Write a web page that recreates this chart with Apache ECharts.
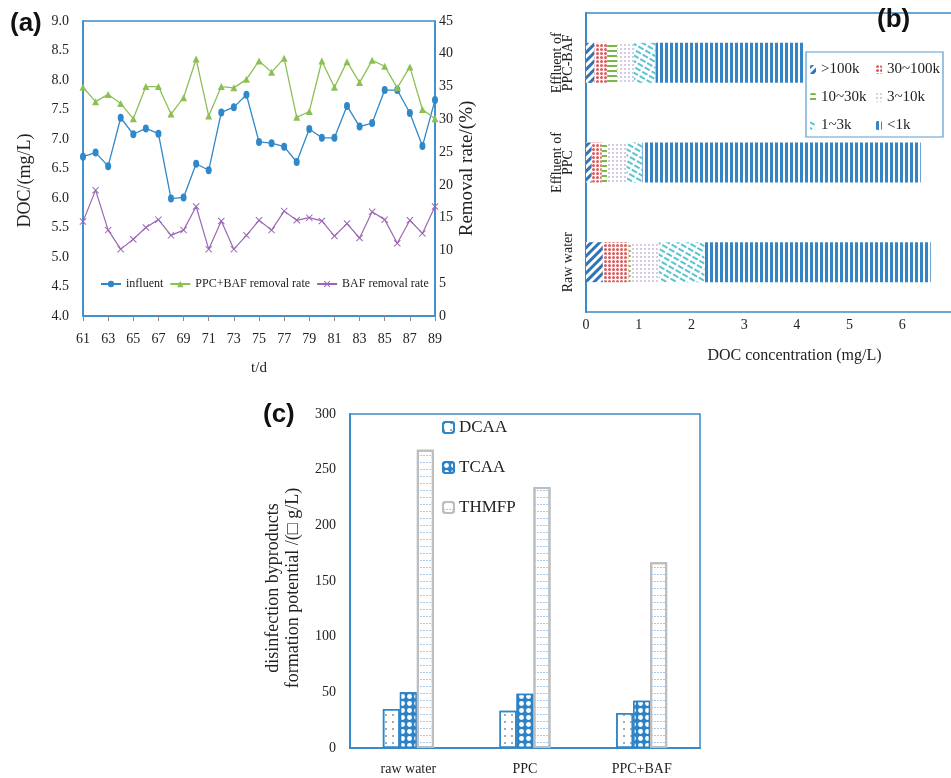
<!DOCTYPE html>
<html>
<head>
<meta charset="utf-8">
<title>DOC and DBPFP</title>
<script src="https://cdn.jsdelivr.net/npm/echarts/dist/echarts.min.js"></script>
<style>
  html, body { margin: 0; padding: 0; background: #fff; }
  #main { width: 951px; height: 778px; }
</style>
</head>
<body>
<div id="main"></div>
<script>
  // (a) daily values
  var days = ['61', '62', '63', '64', '65', '66', '67', '68', '69', '70', '71', '72', '73', '74', '75',
    '76', '77', '78', '79', '80', '81', '82', '83', '84', '85', '86', '87', '88', '89'];
  var influent = [6.70, 6.77, 6.54, 7.36, 7.08, 7.18, 7.09, 5.99, 6.01, 6.58, 6.47, 7.45, 7.54, 7.75, 6.95,
    6.93, 6.87, 6.61, 7.17, 7.02, 7.02, 7.56, 7.21, 7.27, 7.83, 7.83, 7.44, 6.88, 7.66];
  var ppcBafRate = [34.9, 32.7, 33.8, 32.4, 30.1, 35.0, 35.0, 30.8, 33.3, 39.2, 30.5, 35.0, 34.8, 36.1, 38.9,
    37.2, 39.3, 30.3, 31.2, 38.9, 34.9, 38.8, 35.6, 39.0, 38.1, 34.8, 38.0, 31.5, 30.1];
  var bafRate = [14.4, 19.2, 13.1, 10.2, 11.7, 13.5, 14.7, 12.3, 13.1, 16.7, 10.2, 14.5, 10.2, 12.3, 14.6,
    13.1, 16.0, 14.6, 15.0, 14.5, 12.2, 14.1, 11.9, 15.9, 14.7, 11.1, 14.6, 12.6, 16.7];

  // (b) molecular weight fractions
  var samples = ['Raw water', 'Effluent of\nPPC', 'Effluent of\nPPC-BAF'];
  var mwNames = ['>100k', '30~100k', '10~30k', '3~10k', '1~3k', '<1k'];
  var gt100k = [0.32, 0.11, 0.16];
  var k30to100 = [0.49, 0.19, 0.24];
  var k10to30 = [0.04, 0.10, 0.19];
  var k3to10 = [0.53, 0.37, 0.32];
  var k1to3 = [0.87, 0.30, 0.41];
  var lt1k = [4.29, 5.28, 2.80];

  // (c) DBP formation potential
  var processes = ['raw water', 'PPC', 'PPC+BAF'];
  var dcaa = [35.0, 33.5, 31.4];
  var tcaa = [50.0, 48.8, 42.5];
  var thmfp = [268, 234.4, 166.8];

  var serif = 'Liberation Serif';
  var blue = '#3a8ac8';
  var grey = '#8a8a8a';
  var txt = '#222';

  var chart = echarts.init(document.getElementById('main'));

  function label(text, left, top) {
    return {
      text: text, left: left, top: top,
      textStyle: { fontFamily: 'Liberation Sans', fontWeight: 'bold', fontSize: 26, color: '#111' }
    };
  }

  function mwBar(name, data, decal) {
    return {
      name: name, type: 'bar', stack: 'doc',
      xAxisIndex: 1, yAxisIndex: 2,
      barWidth: 40,
      itemStyle: { color: '#fff', decal: decal },
      data: data
    };
  }

  var option = {
    animation: false,
    textStyle: { fontFamily: serif },
    title: [label('(a)', 5, 6), label('(b)', 872, 2), label('(c)', 258, 397)],
    legend: [
      {
        data: ['influent', 'PPC+BAF removal rate', 'BAF removal rate'],
        left: 95, top: 273, itemGap: 6, itemTextGap: 2, itemWidth: 20, itemHeight: 8,
        textStyle: { fontFamily: serif, fontSize: 12, color: txt }
      },
      {
        data: ['>100k', '10~30k', '1~3k'],
        orient: 'vertical', left: 805, top: 56, itemGap: 11, itemWidth: 6, itemHeight: 9,
        textStyle: { fontFamily: serif, fontSize: 15, color: txt, lineHeight: 17 }
      },
      {
        data: ['30~100k', '3~10k', '<1k'],
        orient: 'vertical', left: 871, top: 56, itemGap: 11, itemWidth: 6, itemHeight: 9,
        textStyle: { fontFamily: serif, fontSize: 15, color: txt, lineHeight: 17 }
      },
      {
        data: ['DCAA', 'TCAA', 'THMFP'],
        orient: 'vertical', left: 437, top: 413, itemGap: 21, itemWidth: 11, itemHeight: 11,
        textStyle: { fontFamily: serif, fontSize: 17, color: txt, lineHeight: 19 }
      }
    ],
    graphic: [{
      type: 'rect', z: 1,
      shape: { x: 806, y: 52, width: 137, height: 85 },
      style: { fill: '#fff', stroke: '#5a9ad0', lineWidth: 1.2 }
    }],
    grid: [
      { left: 83, top: 21, width: 352, height: 295, outerBoundsMode: 'none', show: true, borderColor: blue, borderWidth: 1.5 },
      { left: 586, top: 13, width: 369, height: 299, outerBoundsMode: 'none', show: true, borderColor: blue, borderWidth: 1.5 },
      { left: 350, top: 414, width: 350, height: 334, outerBoundsMode: 'none', show: true, borderColor: blue, borderWidth: 1.5 }
    ],
    xAxis: [
      {
        gridIndex: 0, type: 'category', boundaryGap: false, data: days,
        name: 't/d', nameLocation: 'middle', nameGap: 45,
        nameTextStyle: { fontFamily: serif, fontSize: 15, color: txt },
        axisLine: { lineStyle: { color: blue, width: 1.5 } },
        axisTick: { interval: 1, length: 5, lineStyle: { color: grey } },
        axisLabel: { interval: 1, margin: 16, fontFamily: serif, fontSize: 14, color: txt },
        splitLine: { show: false }
      },
      {
        gridIndex: 1, type: 'value', min: 0, max: 7, interval: 1,
        name: 'DOC concentration (mg/L)', nameLocation: 'middle', nameGap: 36,
        nameTextStyle: { fontFamily: serif, fontSize: 16, color: txt, padding: [0, 0, 0, 48] },
        axisLine: { lineStyle: { color: blue, width: 2 } },
        axisTick: { inside: true, length: 5, lineStyle: { color: grey } },
        axisLabel: {
          margin: 6, fontFamily: serif, fontSize: 14, color: txt,
          formatter: function (v) { return v === 7 ? '' : v; }
        },
        splitLine: { show: false }
      },
      {
        gridIndex: 2, type: 'category', data: processes,
        axisLine: { lineStyle: { color: blue, width: 2 } },
        axisTick: { length: 7, lineStyle: { color: grey } },
        axisLabel: { margin: 14, fontFamily: serif, fontSize: 14, color: txt },
        splitLine: { show: false }
      }
    ],
    yAxis: [
      {
        gridIndex: 0, type: 'value', min: 4, max: 9, interval: 0.5,
        name: 'DOC/(mg/L)', nameLocation: 'middle', nameGap: 49,
        nameTextStyle: { fontFamily: serif, fontSize: 18, color: txt, padding: [0, 24, 0, 0] },
        axisLine: { show: true, lineStyle: { color: blue, width: 1.5 } },
        axisTick: { show: false },
        axisLabel: {
          margin: 14, fontFamily: serif, fontSize: 14, color: txt,
          formatter: function (v) { return v.toFixed(1); }
        },
        splitLine: { show: false }
      },
      {
        gridIndex: 0, type: 'value', position: 'right', min: 0, max: 45, interval: 5,
        name: 'Removal rate/(%)', nameLocation: 'middle', nameGap: 23,
        nameTextStyle: { fontFamily: serif, fontSize: 19, color: txt },
        axisLine: { show: true, lineStyle: { color: blue, width: 1.5 } },
        axisTick: { show: false },
        axisLabel: { margin: 4, fontFamily: serif, fontSize: 14, color: txt },
        splitLine: { show: false }
      },
      {
        gridIndex: 1, type: 'category', data: samples,
        axisLine: { lineStyle: { color: blue, width: 2 } },
        axisTick: { length: 5, lineStyle: { color: grey } },
        axisLabel: { rotate: 90, margin: 12, fontFamily: serif, fontSize: 14, color: txt, lineHeight: 11 },
        splitLine: { show: false }
      },
      {
        gridIndex: 2, type: 'value', min: 0, max: 300, interval: 50,
        name: 'disinfection byproducts\nformation potential /(\u25a1 g/L)',
        nameLocation: 'middle', nameGap: 47,
        nameTextStyle: { fontFamily: serif, fontSize: 18, color: txt, lineHeight: 20, padding: [0, 14, 0, 0] },
        axisLine: { show: true, lineStyle: { color: blue, width: 2 } },
        axisTick: { length: 5, lineStyle: { color: grey } },
        axisLabel: { margin: 14, fontFamily: serif, fontSize: 14, color: txt },
        splitLine: { show: false }
      }
    ],
    series: [
      {
        name: 'influent', type: 'line', xAxisIndex: 0, yAxisIndex: 0,
        symbol: 'circle', symbolSize: [6, 8],
        lineStyle: { color: '#2f88c9', width: 1.3 },
        itemStyle: { color: '#2f88c9' },
        data: influent
      },
      {
        name: 'PPC+BAF removal rate', type: 'line', xAxisIndex: 0, yAxisIndex: 1,
        symbol: 'triangle', symbolSize: 7,
        lineStyle: { color: '#8cc055', width: 1.3 },
        itemStyle: { color: '#8cc055' },
        data: ppcBafRate
      },
      {
        name: 'BAF removal rate', type: 'line', xAxisIndex: 0, yAxisIndex: 1,
        symbol: 'path://M0,1L1,0L5,4L9,0L10,1L6,5L10,9L9,10L5,6L1,10L0,9L4,5Z', symbolSize: 7,
        lineStyle: { color: '#9b66b6', width: 1.2 },
        itemStyle: { color: '#9b66b6' },
        data: bafRate
      },
      mwBar(mwNames[0], gt100k, {
        symbol: 'rect', color: '#2f74b4', dashArrayX: [1, 0], dashArrayY: [2.5, 2.5], rotation: -Math.PI / 4
      }),
      mwBar(mwNames[1], k30to100, {
        symbol: 'circle', color: '#e05a5a', symbolSize: 1, dashArrayX: [2.5, 0.8], dashArrayY: [2.5, 0.8]
      }),
      mwBar(mwNames[2], k10to30, {
        symbol: 'rect', color: '#7db64a', dashArrayX: [1, 0], dashArrayY: [2, 2.5]
      }),
      mwBar(mwNames[3], k3to10, {
        symbol: 'circle', color: '#c9b8dc', symbolSize: 1, dashArrayX: [2, 2], dashArrayY: [2, 2]
      }),
      mwBar(mwNames[4], k1to3, {
        symbol: 'rect', color: '#5cc2d2', dashArrayX: [6, 2], dashArrayY: [2, 2.5], rotation: Math.PI / 6
      }),
      mwBar(mwNames[5], lt1k, {
        symbol: 'rect', color: '#3585c6', dashArrayX: [2.5, 2], dashArrayY: [1, 0]
      }),
      {
        name: 'DCAA', type: 'bar', xAxisIndex: 2, yAxisIndex: 3,
        barWidth: 17, barGap: '0%',
        itemStyle: {
          color: '#fff', borderColor: '#2f86c8', borderWidth: 1.5,
          decal: { symbol: 'circle', color: '#8c8c8c', symbolSize: 1, dashArrayX: [1.5, 5], dashArrayY: [1.5, 5] }
        },
        data: dcaa
      },
      {
        name: 'TCAA', type: 'bar', xAxisIndex: 2, yAxisIndex: 3,
        barWidth: 17, barGap: '0%',
        itemStyle: {
          color: '#2b82c7', borderColor: '#2b82c7', borderWidth: 1.5,
          decal: { symbol: 'circle', color: '#fff', symbolSize: 0.7, dashArrayX: [7, 0], dashArrayY: [7, 0] }
        },
        data: tcaa
      },
      {
        name: 'THMFP', type: 'bar', xAxisIndex: 2, yAxisIndex: 3,
        barWidth: 17, barGap: '0%',
        itemStyle: {
          color: '#fff', borderColor: '#bdbdbd', borderWidth: 2,
          decal: { symbol: 'rect', color: '#a6cbee', dashArrayX: [1.5, 1], dashArrayY: [1, 6] }
        },
        data: thmfp
      }
    ]
  };

  chart.setOption(option);
</script>
</body>
</html>
